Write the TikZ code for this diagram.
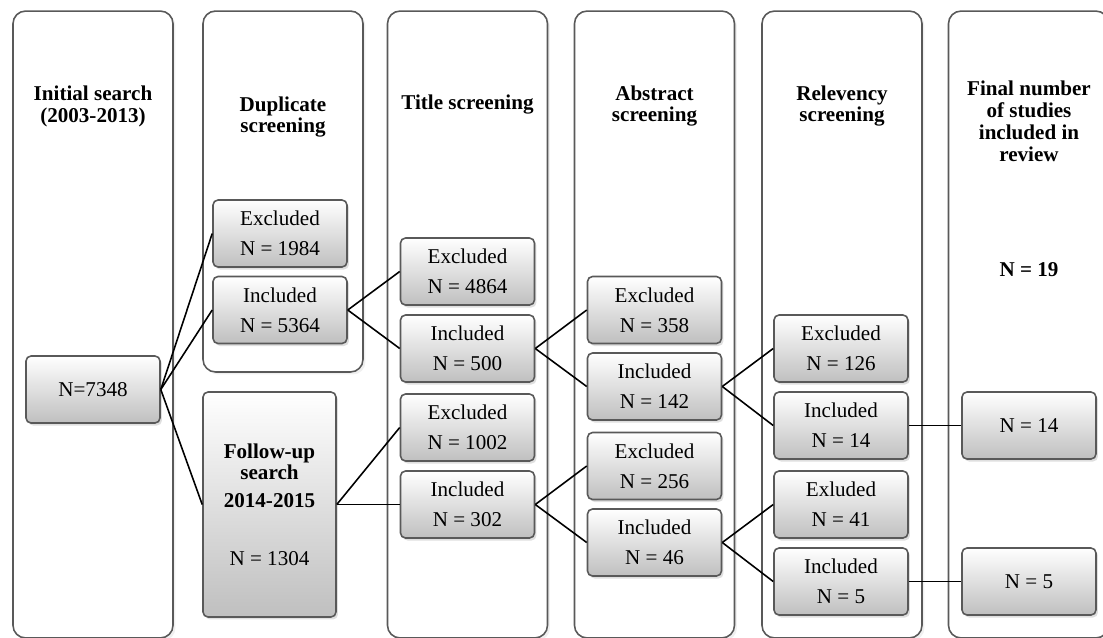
\documentclass[tikz,border=0pt]{standalone}
\usepackage{fontspec}
\setmainfont{Liberation Serif}
\usepackage{tikz}
\usetikzlibrary{shadows}
\tikzset{
  colbox/.style = {rectangle, draw=black!65, line width=0.9pt, fill=white,
                   rounded corners=0.25cm, minimum width=3.2cm,
                   drop shadow={opacity=0.12, shadow xshift=0.05cm, shadow yshift=-0.05cm}},
  head/.style   = {align=center, font=\fontsize{12}{12.5}\selectfont\bfseries},
  nbox/.style   = {rectangle, draw=black!65, line width=0.9pt, rounded corners=0.1cm,
                   top color=white, bottom color=black!25,
                   minimum width=2.68cm, minimum height=1.34cm, align=center,
                   font=\fontsize{12}{17}\selectfont,
                   drop shadow={opacity=0.25, shadow xshift=0.04cm, shadow yshift=-0.05cm}},
  link/.style   = {line width=0.9pt, black},
}
\begin{document}
\begin{tikzpicture}[x=0.02cm, y=-0.02cm]
  \useasboundingbox (0,0) rectangle (1103,637);

  %% Stage columns
  \node[colbox, minimum height=12.54cm] (colA) at (93,324.5) {};
  \node[colbox, minimum height=7.22cm]  (colB) at (283,191.5) {};
  \node[colbox, minimum height=12.54cm] (colC) at (467.5,324.5) {};
  \node[colbox, minimum height=12.54cm] (colD) at (654.5,324.5) {};
  \node[colbox, minimum height=12.54cm] (colE) at (842,324.5) {};
  \node[colbox, minimum height=12.54cm] (colF) at (1028.5,324.5) {};

  %% Column headers
  \foreach \n/\x/\y/\lbl in {
    hA/93/106/{Initial search\\(2003-2013)},
    hB/283/117/{Duplicate\\screening},
    hC/467.5/105/{Title screening},
    hD/654.5/106/{Abstract\\screening},
    hE/842/106/{Relevency\\screening},
    hF/1029/121/{Final number\\of studies\\included in\\review}}
  {
    \node[head] (\n) at (\x,\y) {\lbl};
  }
  \node[head] (total) at (1029,270) {N = 19};

  %% Counts
  \node[nbox] (n7348) at (93,389.5) {N=7348};
  \node[nbox, minimum width=2.66cm, minimum height=4.5cm] (follow) at (269.5,504.5)
       {\textbf{Follow-up}\\[-5pt]\textbf{search}\\[-1pt]\textbf{2014-2015}\\[16pt]N = 1304};

  \foreach \n/\x/\y/\lbl in {
    ex1984/280/233.5/{Excluded\\N = 1984},
    in5364/280/310/{Included\\N = 5364},
    ex4864/467.5/271.5/{Excluded\\N = 4864},
    in500/467.5/348.5/{Included\\N = 500},
    ex1002/467.5/427.5/{Excluded\\N = 1002},
    in302/467.5/504.5/{Included\\N = 302},
    ex358/654.5/310/{Excluded\\N = 358},
    in142/654.5/386.5/{Included\\N = 142},
    ex256/654.5/466/{Excluded\\N = 256},
    in46/654.5/542.5/{Included\\N = 46},
    ex126/841/348.5/{Excluded\\N = 126},
    in14/841/425.5/{Included\\N = 14},
    ex41/841/504.5/{Exluded\\N = 41},
    in5/841/581.5/{Included\\N = 5}}
  {
    \node[nbox] (\n) at (\x,\y) {\lbl};
  }
  \node[nbox] (fin14) at (1029,425.5) {N = 14};
  \node[nbox] (fin5)  at (1029,581.5) {N = 5};

  %% Connectors
  \foreach \a/\b in {n7348/ex1984, n7348/in5364, n7348/follow,
                     in5364/ex4864, in5364/in500, follow/ex1002, follow/in302,
                     in500/ex358, in500/in142, in302/ex256, in302/in46,
                     in142/ex126, in142/in14, in46/ex41, in46/in5,
                     in14/fin14, in5/fin5}
  {
    \draw[link] (\a.east) -- (\b.west);
  }

\end{tikzpicture}
\end{document}
